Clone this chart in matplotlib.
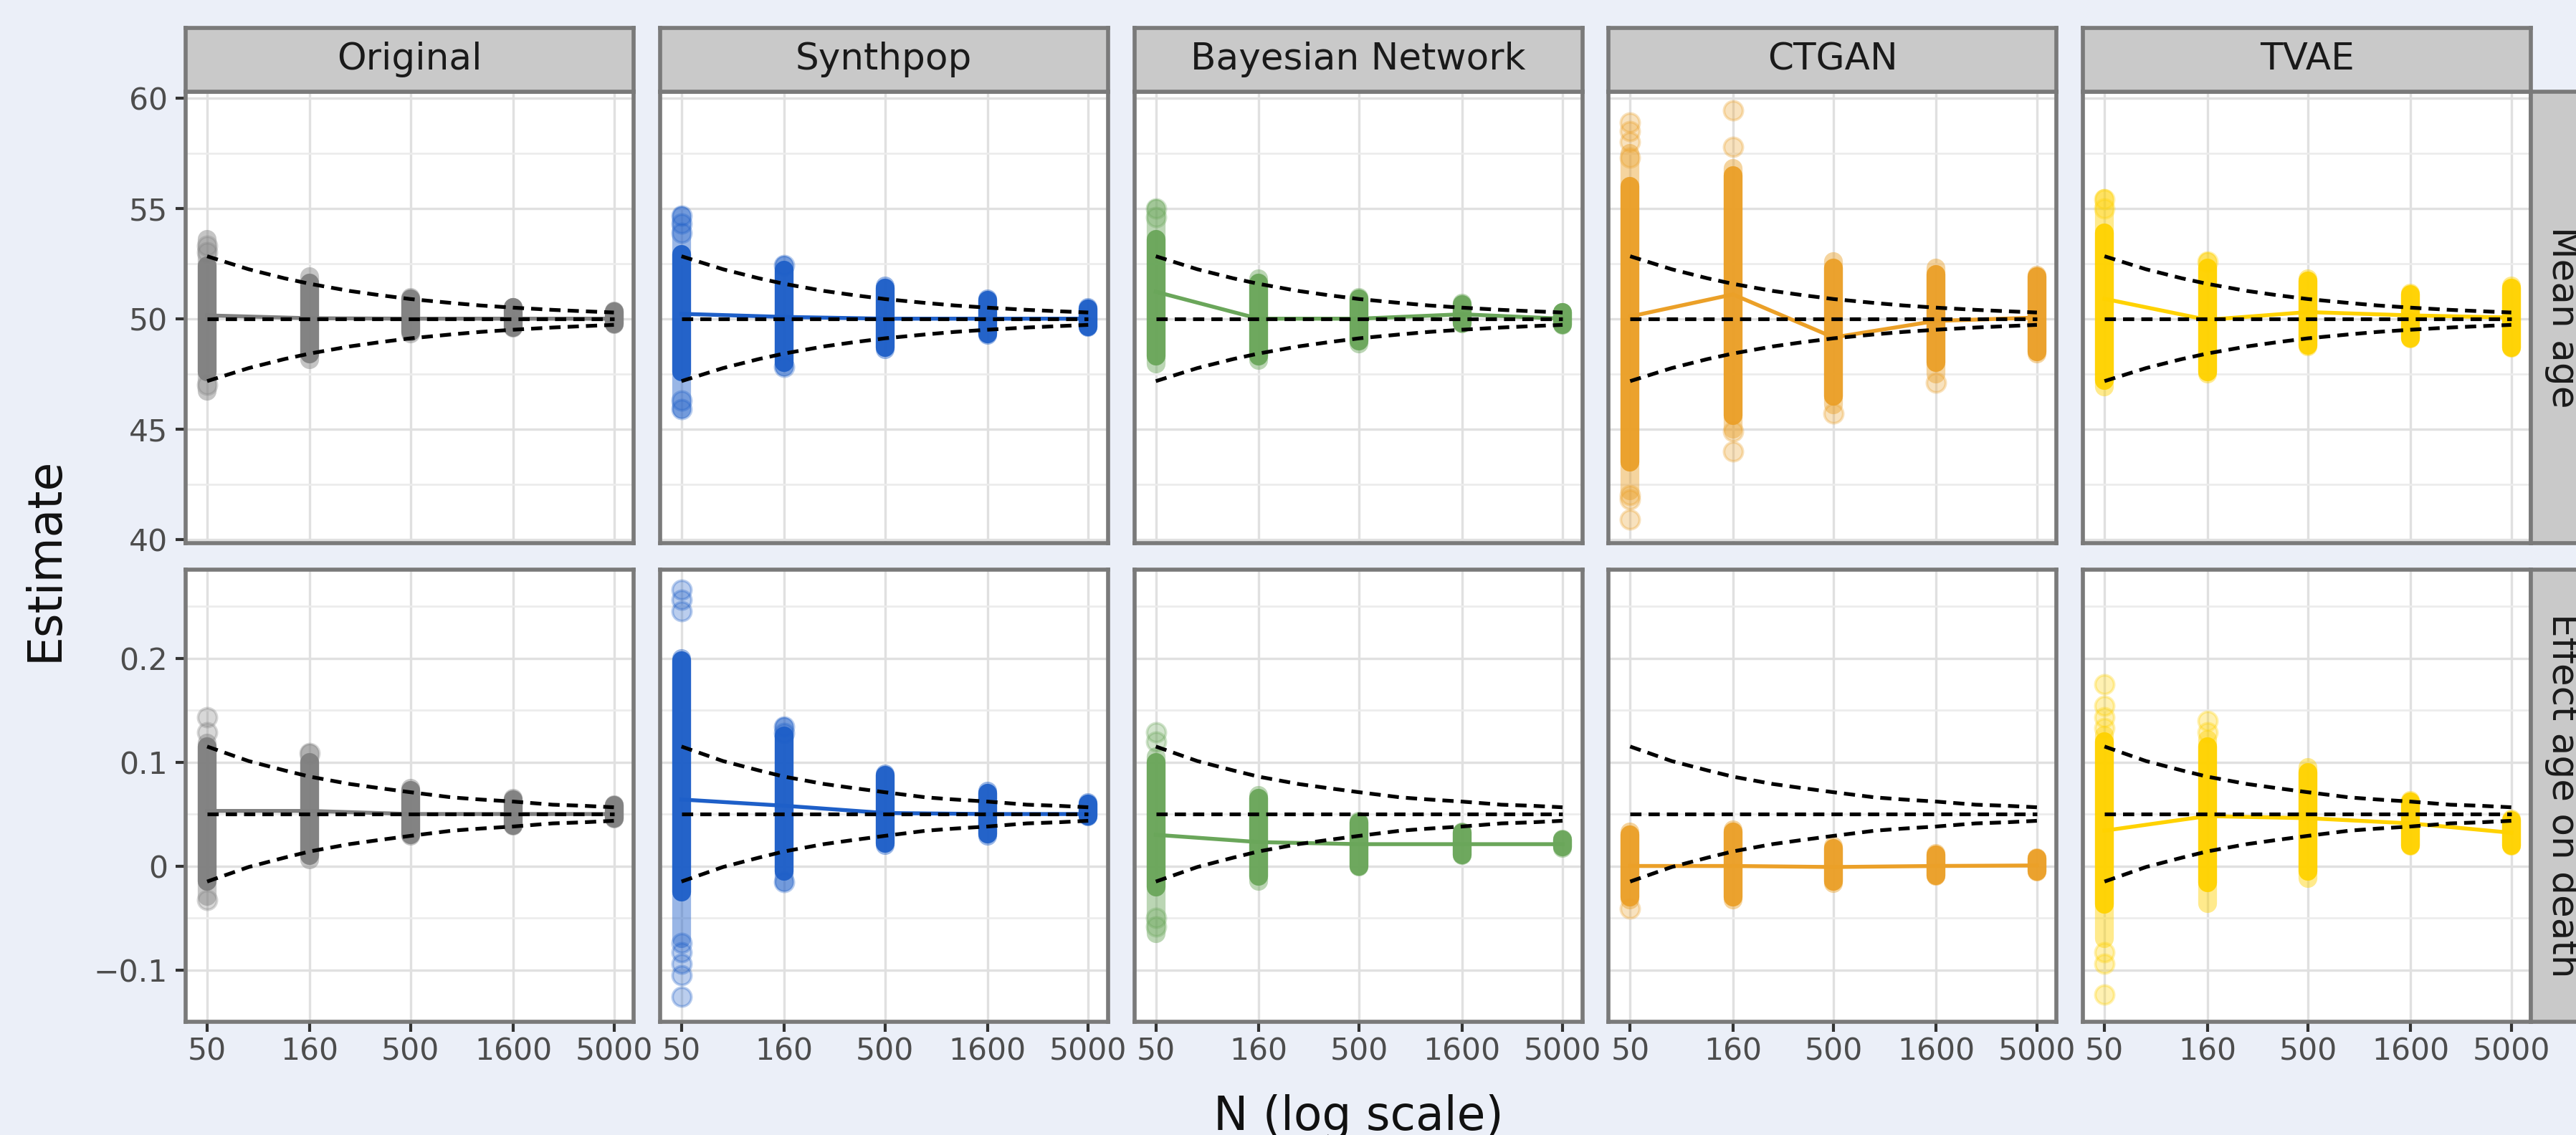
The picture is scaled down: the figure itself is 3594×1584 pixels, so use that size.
import matplotlib
matplotlib.use("Agg")
import matplotlib.pyplot as plt
from matplotlib.ticker import FixedLocator, NullLocator

# figure size in pixels
W, H, DPI = 3595, 1584, 300

methods = ["Original", "Synthpop", "Bayesian Network", "CTGAN", "TVAE"]
sample_sizes = [50, 160, 500, 1600, 5000]
row_labels = ["Mean age", "Effect age on death"]
true_age = 50.0
true_effect = 0.05

# half width of the dashed reference band
ci_n = [50, 80, 120, 160, 250, 350, 500, 800, 1100, 1600, 2500, 3500, 5000]
age_halfwidth = [2.83, 2.24, 1.83, 1.58, 1.26, 1.07, 0.89, 0.71, 0.60, 0.50, 0.40, 0.34, 0.28]
effect_halfwidth = [0.065, 0.051, 0.042, 0.036, 0.029, 0.025, 0.021, 0.016, 0.014, 0.012, 0.009, 0.008, 0.0065]

# ---- Mean age ----
age_mean = {
    "Original": [50.15, 50.02, 50.0, 50.0, 50.0],
    "Synthpop": [50.22, 50.08, 50.0, 50.0, 50.0],
    "Bayesian Network": [51.22, 50.0, 50.0, 50.2, 50.0],
    "CTGAN": [50.1, 51.1, 49.15, 49.9, 50.05],
    "TVAE": [50.9, 49.95, 50.3, 50.15, 50.05],
}
age_outer_lo = {
    "Original": [46.7, 48.15, 49.32, 49.57, 49.73],
    "Synthpop": [45.9, 47.8, 48.6, 49.25, 49.6],
    "Bayesian Network": [47.95, 48.1, 48.87, 49.75, 49.7],
    "CTGAN": [42.2, 45.0, 46.1, 47.5, 48.4],
    "TVAE": [46.9, 47.5, 48.74, 49.07, 48.66],
}
age_outer_hi = {
    "Original": [53.6, 51.9, 50.98, 50.52, 50.35],
    "Synthpop": [54.66, 52.43, 51.47, 50.9, 50.5],
    "Bayesian Network": [55.0, 51.8, 50.96, 50.7, 50.3],
    "CTGAN": [57.5, 56.8, 52.6, 52.3, 51.97],
    "TVAE": [55.45, 52.6, 51.8, 51.15, 51.48],
}
age_core_lo = {
    "Original": [47.6, 48.4, 49.4, 49.6, 49.75],
    "Synthpop": [47.6, 48.0, 48.7, 49.3, 49.62],
    "Bayesian Network": [48.3, 48.3, 49.0, 49.8, 49.72],
    "CTGAN": [43.5, 45.6, 46.5, 48.0, 48.5],
    "TVAE": [47.2, 47.6, 48.8, 49.1, 48.7],
}
age_core_hi = {
    "Original": [52.4, 51.6, 50.9, 50.5, 50.33],
    "Synthpop": [52.9, 52.2, 51.4, 50.85, 50.45],
    "Bayesian Network": [53.6, 51.6, 50.9, 50.65, 50.28],
    "CTGAN": [56.0, 56.5, 52.3, 52.0, 51.9],
    "TVAE": [53.9, 52.3, 51.7, 51.1, 51.4],
}
age_singles = {
    "Original": [(50, 53.3), (50, 53.0), (50, 47.0)],
    "Synthpop": [(50, 54.66), (50, 54.3), (50, 53.9), (50, 46.3), (50, 45.9), (160, 52.43), (160, 47.8)],
    "Bayesian Network": [(50, 55.0), (50, 54.6)],
    "CTGAN": [(50, 58.9), (50, 58.5), (50, 58.0), (50, 57.3), (50, 42.0), (50, 41.8), (50, 40.9),
              (160, 59.45), (160, 57.8), (160, 44.9), (160, 44.0), (500, 45.7), (1600, 47.1)],
    "TVAE": [(50, 55.4), (50, 55.0), (160, 52.6)],
}

# ---- Effect age on death ----
eff_mean = {
    "Original": [0.053, 0.053, 0.050, 0.050, 0.050],
    "Synthpop": [0.064, 0.058, 0.051, 0.050, 0.050],
    "Bayesian Network": [0.030, 0.023, 0.021, 0.021, 0.021],
    "CTGAN": [0.0, 0.0, -0.001, 0.0, 0.0005],
    "TVAE": [0.034, 0.048, 0.046, 0.041, 0.032],
}
eff_outer_lo = {
    "Original": [-0.029, 0.006, 0.029, 0.038, 0.045],
    "Synthpop": [-0.07, -0.0156, 0.020, 0.029, 0.047],
    "Bayesian Network": [-0.065, -0.015, -0.001, 0.010, 0.017],
    "CTGAN": [-0.033, -0.033, -0.017, -0.010, -0.006],
    "TVAE": [-0.07, -0.036, -0.012, 0.019, 0.019],
}
eff_outer_hi = {
    "Original": [0.118, 0.109, 0.075, 0.065, 0.059],
    "Synthpop": [0.20, 0.134, 0.089, 0.072, 0.061],
    "Bayesian Network": [0.105, 0.068, 0.043, 0.033, 0.026],
    "CTGAN": [0.033, 0.035, 0.019, 0.012, 0.008],
    "TVAE": [0.126, 0.122, 0.095, 0.063, 0.045],
}
eff_core_lo = {
    "Original": [-0.015, 0.010, 0.030, 0.039, 0.046],
    "Synthpop": [-0.025, -0.005, 0.022, 0.031, 0.048],
    "Bayesian Network": [-0.020, -0.010, 0.0, 0.011, 0.018],
    "CTGAN": [-0.030, -0.030, -0.015, -0.009, -0.005],
    "TVAE": [-0.037, -0.016, -0.005, 0.020, 0.020],
}
eff_core_hi = {
    "Original": [0.115, 0.100, 0.073, 0.064, 0.058],
    "Synthpop": [0.198, 0.125, 0.087, 0.070, 0.060],
    "Bayesian Network": [0.100, 0.065, 0.042, 0.032, 0.025],
    "CTGAN": [0.030, 0.033, 0.017, 0.011, 0.007],
    "TVAE": [0.120, 0.115, 0.090, 0.062, 0.044],
}
eff_singles = {
    "Original": [(50, 0.143), (50, 0.129), (50, -0.033), (160, 0.109)],
    "Synthpop": [(50, 0.266), (50, 0.256), (50, 0.245), (50, -0.074), (50, -0.083), (50, -0.094),
                 (50, -0.105), (50, -0.126), (160, 0.134), (160, 0.128), (160, -0.0156)],
    "Bayesian Network": [(50, 0.129), (50, 0.120), (50, -0.050), (50, -0.058)],
    "CTGAN": [(50, -0.041)],
    "TVAE": [(50, 0.175), (50, 0.154), (50, 0.143), (50, 0.133), (50, -0.083), (50, -0.094),
             (50, -0.124), (160, 0.140), (160, 0.129)],
}

colors = {
    "Original": "#808080",
    "Synthpop": "#1e5fc8",
    "Bayesian Network": "#6aa65a",
    "CTGAN": "#eba028",
    "TVAE": "#ffd200",
}

rows = [
    dict(true=true_age, hw=age_halfwidth, mean=age_mean, olo=age_outer_lo, ohi=age_outer_hi,
         clo=age_core_lo, chi=age_core_hi, singles=age_singles,
         ylim=(39.84, 60.3), yticks=[40, 45, 50, 55, 60], ylabels=["40", "45", "50", "55", "60"],
         yminor=[42.5, 47.5, 52.5, 57.5]),
    dict(true=true_effect, hw=effect_halfwidth, mean=eff_mean, olo=eff_outer_lo, ohi=eff_outer_hi,
         clo=eff_core_lo, chi=eff_core_hi, singles=eff_singles,
         ylim=(-0.150, 0.285), yticks=[-0.1, 0, 0.1, 0.2], ylabels=["\u22120.1", "0", "0.1", "0.2"],
         yminor=[-0.05, 0.05, 0.15, 0.25]),
]

BG = "#ebeff8"
BORDER = "#7a7a7a"
STRIP = "#c9c9c9"
MS = 6.3  # point diameter in pt
DASH = (3.0, 1.9)


def box(x0, y0, x1, y1):
    return [x0 / W, 1 - y1 / H, (x1 - x0) / W, (y1 - y0) / H]


fig = plt.figure(figsize=(W / DPI, H / DPI), dpi=DPI, facecolor=BG)

col_left = [259 + i * 661.8 for i in range(5)]
panel_w = 625
row_top = [127.6, 795.4]
row_bot = [757.6, 1426.0]

for r, rd in enumerate(rows):
    upper = [rd["true"] + h for h in rd["hw"]]
    lower = [rd["true"] - h for h in rd["hw"]]
    for c, m in enumerate(methods):
        x0 = col_left[c]
        ax = fig.add_axes(box(x0, row_top[r], x0 + panel_w, row_bot[r]))
        ax.set_facecolor("white")
        ax.set_xscale("log")
        col = colors[m]

        # simulated estimates: faint outer spread, dense core, isolated points
        for n, lo, hi in zip(sample_sizes, rd["olo"][m], rd["ohi"][m]):
            ax.plot([n, n], [lo, hi], color=col, lw=MS, alpha=0.45,
                    solid_capstyle="round", zorder=2)
        for n, lo, hi in zip(sample_sizes, rd["clo"][m], rd["chi"][m]):
            ax.plot([n, n], [lo, hi], color=col, lw=MS, alpha=0.95,
                    solid_capstyle="round", zorder=2.1)
        sx = [p[0] for p in rd["singles"][m]]
        sy = [p[1] for p in rd["singles"][m]]
        ax.scatter(sx, sy, s=MS ** 2, color=col, alpha=0.3, edgecolors=col,
                   linewidths=0.9, zorder=2.2)

        # mean of estimates
        ax.plot(sample_sizes, rd["mean"][m], color=col, lw=1.3, zorder=3)

        # reference value and band
        ax.plot([50, 5000], [rd["true"], rd["true"]], color="black", lw=1.25,
                dashes=DASH, zorder=4)
        ax.plot(ci_n, upper, color="black", lw=1.25, dashes=DASH, zorder=4)
        ax.plot(ci_n, lower, color="black", lw=1.25, dashes=DASH, zorder=4)

        ax.set_xlim(39.2, 6250)
        ax.set_ylim(*rd["ylim"])
        ax.set_xticks(sample_sizes)
        ax.set_xticklabels([str(n) for n in sample_sizes])
        ax.xaxis.set_minor_locator(NullLocator())
        ax.set_yticks(rd["yticks"])
        ax.set_yticklabels(rd["ylabels"])
        ax.yaxis.set_minor_locator(FixedLocator(rd["yminor"]))

        ax.set_axisbelow(True)
        ax.grid(which="major", color="#e0e0e0", lw=0.8)
        ax.grid(which="minor", axis="y", color="#ececec", lw=0.65)
        for sp in ax.spines.values():
            sp.set_color(BORDER)
            sp.set_linewidth(1.35)

        ax.tick_params(which="minor", length=0)
        if c == 0:
            ax.tick_params(axis="y", length=3.4, width=1.0, color="#333333",
                           labelsize=10.2, labelcolor="#4d4d4d", pad=2.6)
        else:
            ax.tick_params(axis="y", length=0, labelleft=False)
        if r == 1:
            ax.tick_params(axis="x", length=3.4, width=1.0, color="#333333",
                           labelsize=10.2, labelcolor="#4d4d4d", pad=1.5)
        else:
            ax.tick_params(axis="x", length=0, labelbottom=False)

        # column strip on top
        if r == 0:
            sax = fig.add_axes(box(x0, 39, x0 + panel_w, row_top[0]))
            sax.set_facecolor(STRIP)
            sax.set_xticks([])
            sax.set_yticks([])
            for sp in sax.spines.values():
                sp.set_color(BORDER)
                sp.set_linewidth(1.35)
            sax.text(0.5, 0.5, m, ha="center", va="center", fontsize=12.4,
                     color="#1a1a1a", transform=sax.transAxes)

    # row strip on the right (runs past the figure edge)
    rax = fig.add_axes(box(col_left[4] + panel_w, row_top[r], col_left[4] + panel_w + 88, row_bot[r]))
    rax.set_facecolor(STRIP)
    rax.set_xticks([])
    rax.set_yticks([])
    for sp in rax.spines.values():
        sp.set_color(BORDER)
        sp.set_linewidth(1.35)
    rax.text(0.5, 0.5, row_labels[r], ha="center", va="center", rotation=270,
             fontsize=12.4, color="#1a1a1a", transform=rax.transAxes)

fig.text(63 / W, 1 - 780 / H, "Estimate", rotation=90, ha="center", va="center",
         fontsize=15.5, color="#111111")
fig.text(1895 / W, 1 - 1577 / H, "N (log scale)", ha="center", va="baseline",
         fontsize=15.5, color="#111111")

fig.savefig("out.png", dpi=DPI, facecolor=BG)
